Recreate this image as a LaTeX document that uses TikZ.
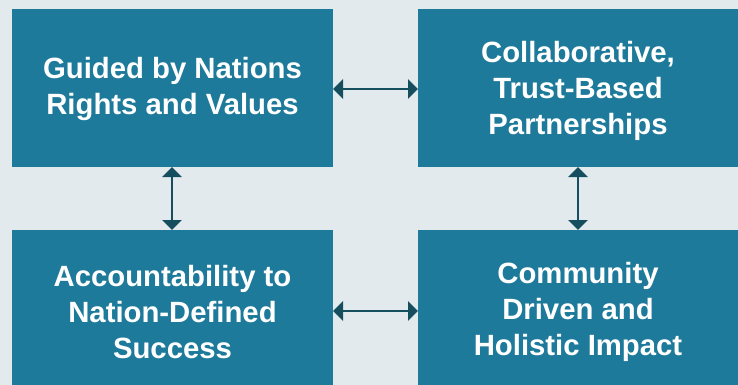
\documentclass[tikz,border=0pt]{standalone}
\usepackage{fontspec}
\setmainfont{Liberation Sans}
\usetikzlibrary{arrows.meta}
\definecolor{bgc}{HTML}{E3EAED}
\definecolor{boxc}{HTML}{1E7A9A}
\definecolor{arrc}{HTML}{154E5F}
\begin{document}
\begin{tikzpicture}[x=1pt,y=-1pt,
  box/.style={fill=boxc,draw=none},
  lbl/.style={text=white,font=\fontsize{29.3}{36}\selectfont\bfseries,align=center},
  link/.style={draw=arrc,line width=2.6pt,{Triangle[length=10pt,width=19pt]}-{Triangle[length=10pt,width=19pt]}}]
\fill[bgc] (0,0) rectangle (738,385);
\useasboundingbox (0,0) rectangle (738,385);
\path[box] (12,9) rectangle (333,167);
\path[box] (418,9) rectangle (738,167);
\path[box] (12,230) rectangle (333,385);
\path[box] (418,230) rectangle (738,385);
\node[lbl] (a) at (172.5,89) {Guided by Nations\\Rights and Values};
\node[lbl] (b) at (578,91) {Collaborative,\\Trust-Based\\Partnerships};
\node[lbl] (c) at (172.5,312) {Accountability to\\Nation-Defined\\Success};
\node[lbl] (d) at (578,312) {Community\\Driven and\\Holistic Impact};
\coordinate (a1) at (333,89); \coordinate (b1) at (418,89);
\coordinate (c1) at (333,311); \coordinate (d1) at (418,311);
\coordinate (a2) at (172,167); \coordinate (c2) at (172,230);
\coordinate (b2) at (578,167); \coordinate (d2) at (578,230);
\draw[link] (a1) -- (b1);
\draw[link] (c1) -- (d1);
\draw[link] (a2) -- (c2);
\draw[link] (b2) -- (d2);
\end{tikzpicture}
\end{document}
